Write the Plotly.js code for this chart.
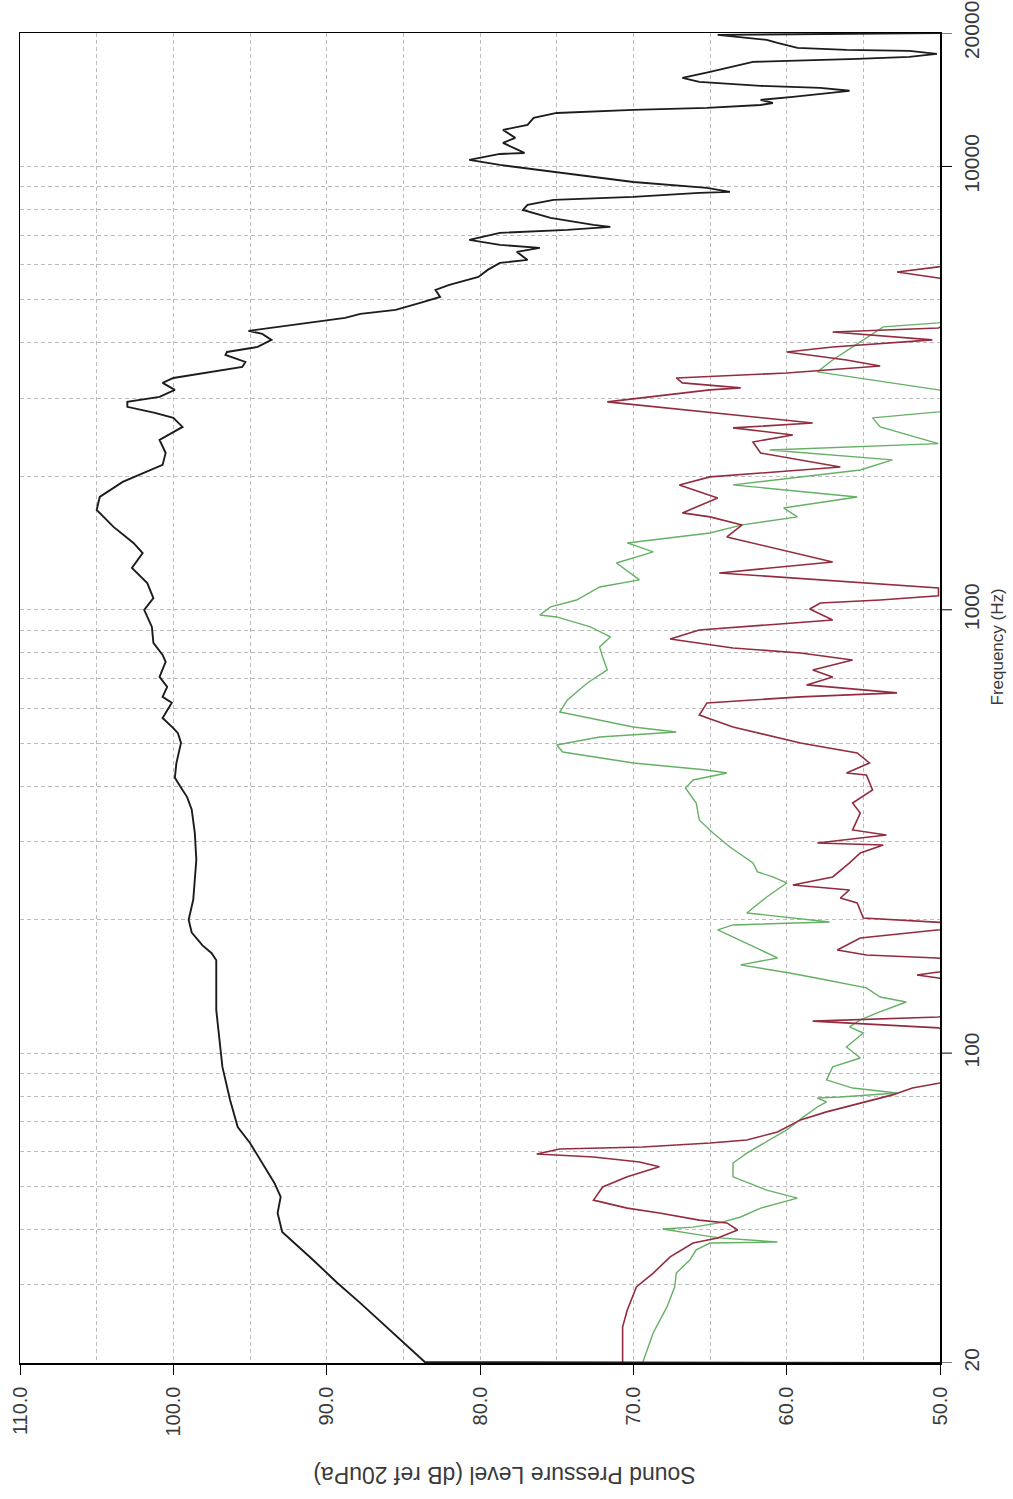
<!DOCTYPE html>
<html>
<head>
<meta charset="utf-8">
<script src="https://cdn.plot.ly/plotly-3.0.1.min.js"></script>
<style>body{margin:0;background:#fff;} #chart{width:1013px;height:1499px;}</style>
</head>
<body>
<div id="chart"></div>
<script>
// Black curve (top trace)
var blackFreq = [20,20.1,27.3,30.3,34.2,39.5,43.6,47.4,50.9,57.4,62.7,68.1,78.4,93.1,107,125,162,168,175,187,200,222,273,314,354,378,392,418,451,501,527,541,570,594,617,636,670,706,763,791,842,915,999,1063,1149,1243,1343,1415,1538,1680,1797,1943,2122,2258,2416,2585,2709,2780,2869,2944,3022,3133,3249,3334,3440,3530,3623,3757,3816,3916,4062,4191,4257,4414,4554,4649,4747,4923,5079,5267,5405,5634,5843,6059,6154,6417,6552,6655,6830,7083,7194,7307,7383,7655,7980,8190,8405,8537,8716,8761,8945,9228,9716,10080,10345,10672,10728,11303,11600,12090,12407,12866,13205,13413,13553,13764,13908,14134,14357,14659,14812,15042,15199,15518,15843,16345,16775,17216,17486,17667,17945,18227,18322,18513,18999,19298,19805,20000];
var blackSPL = [50,83.6,87.8,89.3,90.9,92.9,93.2,93.0,93.4,94.3,95.0,95.8,96.3,96.8,97.0,97.2,97.2,97.5,98.1,98.8,99.0,98.7,98.5,98.6,98.8,99.1,99.4,99.9,99.8,99.5,99.7,100.0,100.7,100.4,100.1,100.7,100.4,100.9,100.5,100.7,101.3,101.4,101.9,101.3,101.7,102.7,102.0,102.6,103.9,105.0,104.8,103.3,100.7,100.5,100.9,99.4,100.0,101.2,103.0,103.0,100.9,99.9,100.7,100.0,97.4,95.5,95.3,96.6,96.5,94.5,93.6,94.2,95.1,91.7,88.8,87.8,85.5,83.9,82.6,82.9,82.0,80.1,79.5,78.7,76.9,77.6,76.1,78.7,80.7,78.7,74.3,71.5,72.6,75.4,77.2,76.9,75.2,70.0,65.7,63.7,65.2,70.0,75.2,78.7,80.7,78.7,77.1,78.5,77.7,78.5,76.9,76.5,75.0,70.0,65.2,61.7,60.9,61.7,59.6,57.4,55.9,57.8,61.7,65.7,66.8,65.0,63.7,62.2,55.4,52.0,50.2,52.0,56.1,59.3,60.6,61.3,64.5,49.5];

// Red curve
var redFreq = [20,24.1,26.3,29.7,31.9,34.7,37.3,38.3,39.9,41.4,42.0,43.6,44.7,46.6,49.9,52.6,55.4,56.8,58.3,59.2,60.8,61.4,62.7,63.7,66.4,70.7,73.7,77.2,80.5,83.4,85.6,96.5,114,118.1,120.6,135.3,147.7,150.1,152.4,158.1,163.9,166.5,170.9,181.8,189.6,193.6,197.6,201.8,218.2,223.8,233.4,239.5,249.7,268.5,282.8,294.8,297.9,310.5,318.7,348,366.6,392.3,424.1,428.5,451.3,475.3,500.6,544.2,579,616.5,636,649.4,676.9,705.6,731.6,770.6,799.2,820.3,859.6,900.7,924.4,948.6,1004,1036,1052,1075,1120,1211,1282,1460,1554,1620,1654,1788,1913,1994,2100,2258,2391,2480,2572,2639,2944,3133,3166,3249,3334,3421,3548,3660,3816,3916,4062,4234,4323,5000,5605,5782,5935,6482];
var redSPL = [70.7,70.7,70.4,69.8,68.7,67.6,66.1,64.5,63.2,63.9,65.7,68.3,70.4,72.6,72.0,70.4,68.3,69.6,72.6,76.3,74.8,69.4,65.0,62.6,60.6,59.1,57.4,55.2,53.1,51.8,50.0,46,50.1,58.3,50.1,46,50.1,51.5,50.1,46,50.2,54.8,56.7,55.2,50.2,46,50.2,55.0,55.4,56.5,55.9,59.6,57.0,55.9,55.2,53.7,58.0,53.5,55.7,55.2,55.7,54.4,54.8,56.1,54.6,55.4,59.1,63.5,65.7,65.2,59.1,52.8,58.7,57.0,58.3,55.7,59.1,63.5,67.6,65.7,61.3,57.0,58.5,57.8,53.9,50.1,50.1,64.4,57.0,63.9,62.9,65.0,66.8,64.5,67.0,65.0,56.5,61.7,62.2,59.6,63.5,58.3,71.7,65.0,63.0,66.8,67.2,60.0,53.9,56.1,60.0,57.0,50.5,57.0,50.1,46,50.1,52.8,50.1,46];

// Green curve
var greenFreq = [20,23.4,26.8,29.7,31.9,34.2,36.0,37.3,37.5,38.3,38.9,40.1,40.5,41.4,42.7,44.7,47.1,49.1,52.6,56.5,59.5,62.7,67.1,71.8,75.6,77.6,79.2,79.6,81.3,83.4,87.0,93.1,97.5,103.2,111,114.6,118.8,123.2,127.1,130.4,133.8,140.3,146.2,151.6,158.1,163.9,170.9,189.6,194.6,197.6,207.1,225,242,249.7,256.3,268.5,291.7,313.7,335.7,366.6,396.4,413.2,428.5,435.2,451.3,477.8,495.5,516.6,530.2,544.2,588.1,626.1,683.9,731.6,782.8,824.6,868.5,914.9,963.5,973.6,1015,1052,1126,1168,1275,1351,1415,1490,1554,1620,1697,1797,1913,2067,2178,2294,2370,2585,2709,2795,2974,3133,3440,3660,3916,4346,4437,5000];
var greenSPL = [69.4,68.7,67.8,67.3,67.2,66.3,65.9,65.0,60.6,64.4,65.7,68.1,66.1,64.4,63.0,61.7,59.3,61.3,63.5,63.5,62.6,61.5,60.0,58.9,58.0,57.4,58.0,56.5,52.8,55.7,57.4,57.0,55.2,56.1,55.0,55.9,55.2,54.1,53.1,52.2,53.9,54.8,57.4,59.8,63.0,60.6,61.7,64.5,63.5,57.2,62.6,61.3,60.0,60.9,61.9,62.2,63.7,64.8,65.7,65.9,66.6,66.1,63.9,65.2,70.0,74.6,75.0,72.2,67.2,70.0,74.8,74.3,73.0,71.7,72.0,72.2,71.5,72.8,75.0,76.1,75.4,73.7,72.2,69.6,71.1,68.7,70.4,65.0,62.9,59.3,60.2,55.4,63.5,55.2,53.1,61.1,50.1,53.9,54.4,50.1,46,50.1,58.0,57.0,55.7,53.7,50.1,46];

// Axis ticks and labels
var splTicks = [110,100,90,80,70,60,50];
var freqGrid = [20,30,40,50,60,70,80,90,100,200,300,400,500,600,700,800,900,1000,2000,3000,4000,5000,6000,7000,8000,9000,10000,20000];
var freqLabelVals = [20,100,1000,10000,20000];
var freqLabelText = ['20','100','1000','10000','20000'];
var xTitle = 'Sound Pressure Level (dB ref 20uPa)';
var yTitle = 'Frequency (Hz)';

var gridColor = '#bcbcbc';
var gridDash = '4px,3px';
var txtColor = '#3a3a3a';
var fontFam = 'Liberation Sans, Arial, sans-serif';

var freqText = freqGrid.map(function(v){
  var i = freqLabelVals.indexOf(v);
  return i >= 0 ? freqLabelText[i] : '';
});

var traces = [
  {x: greenSPL, y: greenFreq, type: 'scatter', mode: 'lines', line: {color: '#66b066', width: 1.4}, hoverinfo: 'skip'},
  {x: redSPL, y: redFreq, type: 'scatter', mode: 'lines', line: {color: '#922c3e', width: 1.6}, hoverinfo: 'skip'},
  {x: blackSPL, y: blackFreq, type: 'scatter', mode: 'lines', line: {color: '#1c1c1c', width: 1.9}, hoverinfo: 'skip'}
];

var shapes = freqLabelVals.map(function(v){
  return {type: 'line', xref: 'paper', yref: 'y', x0: 1, x1: 1 + 12/920, y0: v, y1: v,
          line: {color: '#000', width: 1}};
});

var layout = {
  width: 1013, height: 1499,
  margin: {l: 20, r: 73, t: 33, b: 136, pad: 0},
  paper_bgcolor: '#fff', plot_bgcolor: '#fff',
  showlegend: false,
  font: {family: fontFam, color: txtColor},
  xaxis: {
    range: [110, 50],
    tickvals: splTicks,
    tickformat: '.1f',
    tickangle: -90,
    ticks: 'outside', ticklen: 10, tickcolor: '#000', tickwidth: 1,
    ticklabelstandoff: 4,
    tickfont: {size: 20, color: txtColor, family: fontFam},
    showgrid: true, gridcolor: gridColor, griddash: gridDash, gridwidth: 1,
    minor: {dtick: 5, tick0: 50, showgrid: true, gridcolor: gridColor, griddash: gridDash, gridwidth: 1, ticks: ''},
    showline: true, linecolor: '#000', linewidth: 1.5, mirror: true,
    zeroline: false, fixedrange: true
  },
  yaxis: {
    type: 'log',
    range: [Math.log10(20), Math.log10(20000)],
    side: 'right',
    tickvals: freqGrid,
    ticktext: freqText,
    tickangle: -90,
    ticks: '',
    ticklabelstandoff: 12,
    tickfont: {size: 21, color: txtColor, family: fontFam},
    showgrid: true, gridcolor: gridColor, griddash: gridDash, gridwidth: 1,
    showline: true, linecolor: '#000', linewidth: 1.5, mirror: true,
    zeroline: false, fixedrange: true
  },
  shapes: shapes,
  annotations: [
    {text: xTitle, xref: 'paper', yref: 'paper', x: 0.527, y: -0.0842, showarrow: false,
     textangle: 180, xanchor: 'center', yanchor: 'middle',
     font: {size: 23, color: txtColor, family: fontFam}},
    {text: yTitle, xref: 'paper', yref: 'paper', x: 1.062, y: 0.538, showarrow: false,
     textangle: -90, xanchor: 'center', yanchor: 'middle',
     font: {size: 17, color: txtColor, family: fontFam}}
  ]
};

Plotly.newPlot('chart', traces, layout, {staticPlot: true, displayModeBar: false});
</script>
</body>
</html>
